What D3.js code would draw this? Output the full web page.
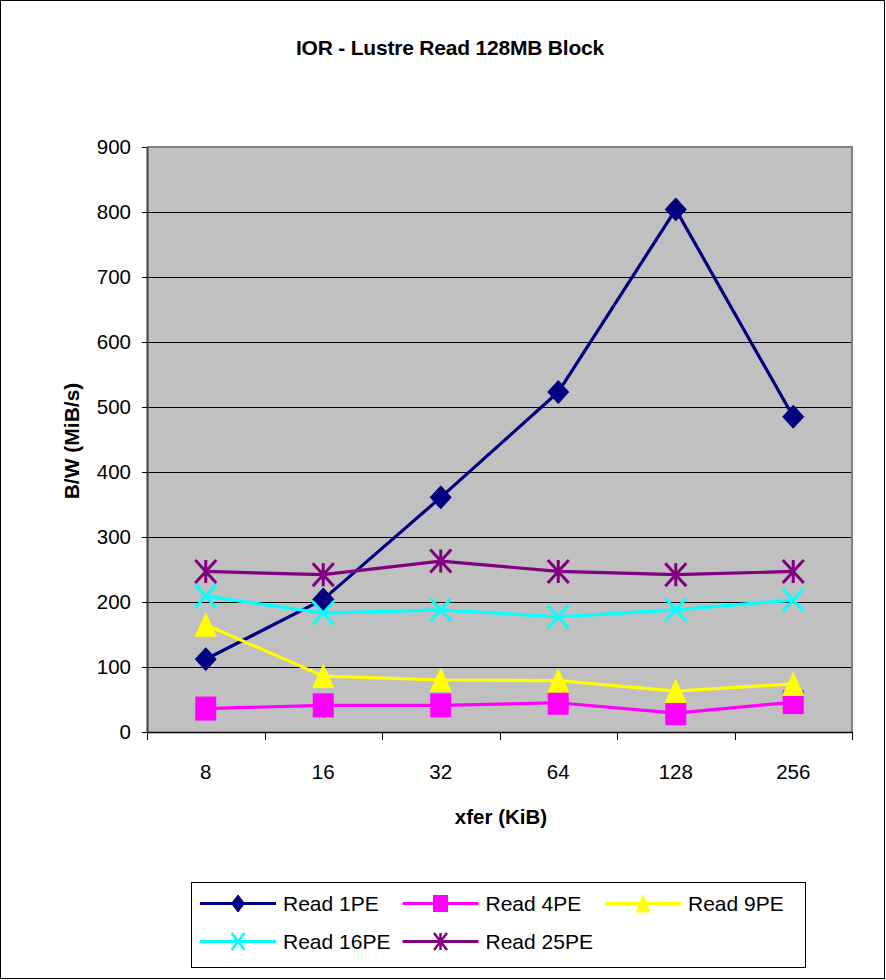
<!DOCTYPE html>
<html>
<head>
<meta charset="utf-8">
<script src="https://cdn.jsdelivr.net/npm/d3@7"></script>
<style>
  html, body { margin: 0; padding: 0; background: #ffffff; }
  svg { display: block; font-family: "Liberation Sans", Arial, sans-serif; }
</style>
</head>
<body>
<svg id="chart" width="886" height="980"></svg>
<script>
// Transfer sizes (KiB) along the x axis
const categories = ["8", "16", "32", "64", "128", "256"];

// Read bandwidth (MiB/s) per process count
const read1PE  = [112, 204, 361, 523, 804, 485];
const read4PE  = [36, 41, 41, 45, 29, 46];
const read9PE  = [165, 86, 80, 79, 63, 74];
const read16PE = [209, 183, 188, 177, 188, 203];
const read25PE = [247, 242, 263, 247, 242, 247];

const yTicks = [0, 100, 200, 300, 400, 500, 600, 700, 800, 900];

const seriesNames = ["Read 1PE", "Read 4PE", "Read 9PE", "Read 16PE", "Read 25PE"];
const seriesValues = [read1PE, read4PE, read9PE, read16PE, read25PE];
const seriesColors = ["#000080", "#FF00FF", "#FFFF00", "#00FFFF", "#800080"];
const seriesMarkers = ["diamond", "square", "triangle", "cross", "star"];

const svg = d3.select("#chart");

// Outer chart frame
svg.append("rect")
  .attr("x", 0.5).attr("y", 0.5)
  .attr("width", 884).attr("height", 978)
  .attr("fill", "#ffffff").attr("stroke", "#000000").attr("stroke-width", 1);

const plot = { left: 147, right: 852, top: 147, bottom: 732 };

const x = d3.scaleBand().domain(categories).range([plot.left, plot.right]);
const y = d3.scaleLinear().domain([0, 900]).range([plot.bottom, plot.top]);

// Plot area background
svg.append("rect")
  .attr("x", plot.left).attr("y", plot.top)
  .attr("width", plot.right - plot.left).attr("height", plot.bottom - plot.top)
  .attr("fill", "#C0C0C0");

// Horizontal gridlines
svg.append("g")
  .selectAll("line")
  .data(yTicks.filter(d => d > 0 && d < 900))
  .join("line")
  .attr("x1", plot.left).attr("x2", plot.right)
  .attr("y1", d => Math.round(y(d)) + 0.5).attr("y2", d => Math.round(y(d)) + 0.5)
  .attr("stroke", "#000000").attr("stroke-width", 1);

// Plot area border (gray top and right)
svg.append("path")
  .attr("d", `M${plot.left},${plot.top} H${plot.right} V${plot.bottom}`)
  .attr("fill", "none").attr("stroke", "#808080").attr("stroke-width", 2);

// Y axis
const yAxis = svg.append("g")
  .attr("transform", `translate(${plot.left},0)`)
  .call(d3.axisLeft(y).tickValues(yTicks).tickSize(5).tickPadding(11).tickSizeOuter(0));
yAxis.select(".domain").attr("stroke", "#404040").attr("stroke-width", 2);
yAxis.selectAll(".tick line").attr("stroke", "#000000");
yAxis.selectAll("text").attr("font-size", 20.5).attr("fill", "#000000")
  .attr("font-family", "Liberation Sans, Arial, sans-serif");

// X axis: labels centred in bands, ticks on band boundaries
const xAxis = svg.append("g")
  .attr("transform", `translate(0,${plot.bottom})`)
  .call(d3.axisBottom(x).tickSize(0).tickPadding(32).tickSizeOuter(0));
xAxis.select(".domain").attr("stroke", "#000000").attr("stroke-width", 1.5);
xAxis.selectAll("text").attr("font-size", 20.5).attr("fill", "#000000")
  .attr("font-family", "Liberation Sans, Arial, sans-serif");
xAxis.append("g")
  .selectAll("line")
  .data(categories.map(c => x(c)).concat([plot.right]))
  .join("line")
  .attr("x1", d => Math.round(d) + 0.5).attr("x2", d => Math.round(d) + 0.5)
  .attr("y1", 0).attr("y2", 8)
  .attr("stroke", "#000000").attr("stroke-width", 1);

// Titles
svg.append("text")
  .attr("x", 450).attr("y", 48).attr("dy", "0.35em")
  .attr("text-anchor", "middle")
  .attr("font-size", 21).attr("font-weight", "bold")
  .attr("letter-spacing", "-0.2")
  .text("IOR - Lustre Read 128MB Block");

svg.append("text")
  .attr("x", 501).attr("y", 817).attr("dy", "0.35em")
  .attr("text-anchor", "middle")
  .attr("font-size", 20.5).attr("font-weight", "bold")
  .text("xfer (KiB)");

svg.append("text")
  .attr("transform", "translate(72,441) rotate(-90)")
  .attr("dy", "0.35em")
  .attr("text-anchor", "middle")
  .attr("font-size", 21).attr("font-weight", "bold")
  .text("B/W (MiB/s)");

// Marker drawing helper
function drawMarker(g, type, color, w, h, sw) {
  if (type === "diamond") {
    g.append("path").attr("d", `M0,${-h / 2}L${w / 2},0L0,${h / 2}L${-w / 2},0Z`)
      .attr("fill", color).attr("stroke", color).attr("stroke-width", 1);
  } else if (type === "square") {
    g.append("rect").attr("x", -w / 2).attr("y", -h / 2).attr("width", w).attr("height", h)
      .attr("fill", color);
  } else if (type === "triangle") {
    g.append("path").attr("d", `M0,${-h / 2}L${w / 2},${h / 2}L${-w / 2},${h / 2}Z`)
      .attr("fill", color).attr("stroke", color).attr("stroke-width", 1).attr("stroke-linejoin", "round");
  } else if (type === "cross" || type === "star") {
    let d = `M${-w / 2},${-h / 2}L${w / 2},${h / 2}M${w / 2},${-h / 2}L${-w / 2},${h / 2}`;
    if (type === "star") d += `M0,${-h / 2}L0,${h / 2}`;
    g.append("path").attr("d", d).attr("fill", "none")
      .attr("stroke", color).attr("stroke-width", sw);
  }
}

const line = d3.line()
  .x((d, i) => x(categories[i]) + x.bandwidth() / 2)
  .y(d => y(d));

// Series lines and markers
seriesValues.forEach((vals, si) => {
  const g = svg.append("g");
  g.append("path")
    .datum(vals)
    .attr("d", line)
    .attr("fill", "none")
    .attr("stroke", seriesColors[si])
    .attr("stroke-width", 3.2)
    .attr("stroke-linejoin", "round");
  vals.forEach((v, i) => {
    const m = g.append("g")
      .attr("transform", `translate(${x(categories[i]) + x.bandwidth() / 2},${y(v)})`);
    const type = seriesMarkers[si];
    if (type === "square") drawMarker(m, type, seriesColors[si], 21, 24, 3);
    else drawMarker(m, type, seriesColors[si], 21, 23, 3);
  });
});

// Legend
const legend = svg.append("g");
legend.append("rect")
  .attr("x", 191.5).attr("y", 882.5).attr("width", 614).attr("height", 85)
  .attr("fill", "#ffffff").attr("stroke", "#000000").attr("stroke-width", 1);

seriesNames.forEach((name, i) => {
  const col = i % 3, row = Math.floor(i / 3);
  const lx = 200 + col * 202.5;
  const ly = 903.5 + row * 38;
  const item = legend.append("g").attr("transform", `translate(${lx},${ly})`);
  item.append("line")
    .attr("x1", 0).attr("x2", 76).attr("y1", 0).attr("y2", 0)
    .attr("stroke", seriesColors[i]).attr("stroke-width", 3);
  const m = item.append("g").attr("transform", "translate(38,0)");
  const type = seriesMarkers[i];
  if (type === "square") drawMarker(m, type, seriesColors[i], 15, 17, 2.5);
  else drawMarker(m, type, seriesColors[i], 13, 17, 2.5);
  item.append("text")
    .attr("x", 83).attr("y", 0).attr("dy", "0.35em")
    .attr("font-size", 21).attr("fill", "#000000")
    .text(name);
});
</script>
</body>
</html>
